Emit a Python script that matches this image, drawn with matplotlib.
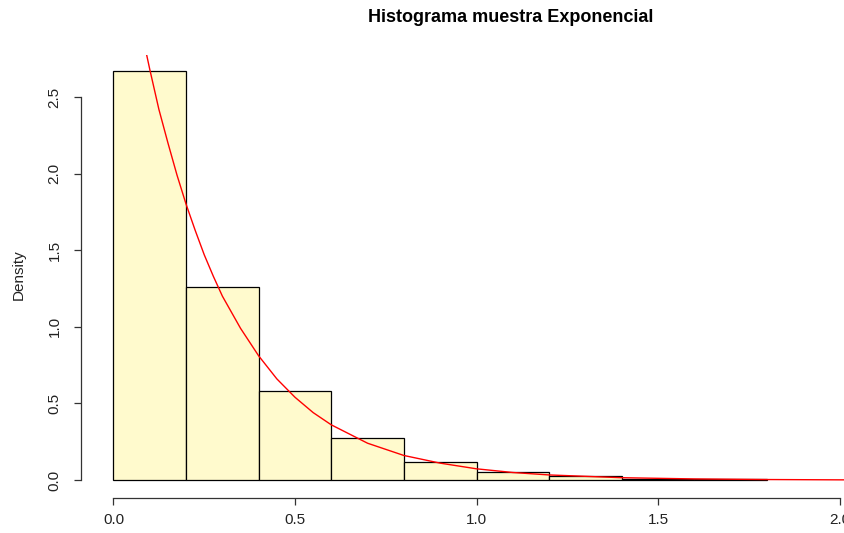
"""Histogram of an exponential sample with the fitted density overlaid."""

import matplotlib

matplotlib.use("Agg")

import matplotlib.pyplot as plt  # noqa: E402

# ---------- Data ----------

BREAKS = [0.0, 0.2, 0.4, 0.6, 0.8, 1.0, 1.2, 1.4, 1.6, 1.8]
DENSITY = [2.67, 1.26, 0.58, 0.274, 0.117, 0.052, 0.026, 0.009, 0.006]

# red density curve
CURVE_X = [0.09, 0.10, 0.125, 0.15, 0.175, 0.20, 0.225, 0.25, 0.275, 0.30,
           0.35, 0.40, 0.45, 0.50, 0.55, 0.60, 0.70, 0.80, 0.90, 1.00,
           1.10, 1.20, 1.40, 1.60, 1.80, 2.00, 2.05]
CURVE_Y = [2.79, 2.68, 2.42, 2.20, 1.99, 1.80, 1.63, 1.47, 1.33, 1.20,
           0.99, 0.81, 0.66, 0.54, 0.44, 0.36, 0.24, 0.16, 0.11, 0.073,
           0.049, 0.033, 0.015, 0.007, 0.003, 0.001, 0.001]

X_TICKS = [0.0, 0.5, 1.0, 1.5, 2.0]
Y_TICKS = [0.0, 0.5, 1.0, 1.5, 2.0, 2.5]

TITLE = "Histograma muestra Exponencial"
Y_LABEL = "Density"

# ---------- Figure ----------

plt.rcParams["font.family"] = ["Liberation Sans", "DejaVu Sans"]

W, H = 845, 533
fig = plt.figure(figsize=(W / 100, H / 100), dpi=100)

# plot region in pixels: left 81, right 845, top 54.6, bottom 498
left, right, top, bottom = 81, 845, 54.6, 498
ax = fig.add_axes([left / W, (H - bottom) / H, (right - left) / W, (bottom - top) / H])

lefts = BREAKS[:-1]
widths = [b - a for a, b in zip(BREAKS[:-1], BREAKS[1:])]
ax.bar(lefts, DENSITY, width=widths, align="edge", color="#FFFACD",
       edgecolor="black", linewidth=0.9, zorder=2)
ax.plot(CURVE_X, CURVE_Y, color="red", linewidth=1.0, zorder=3, clip_on=True)

ax.set_xlim(-0.0895, 2.015)
ax.set_ylim(-0.1175, 2.777)

for s in ("top", "right"):
    ax.spines[s].set_visible(False)
ax.spines["left"].set_bounds(0, 2.5)
ax.spines["bottom"].set_bounds(0, 2.0)
for s in ("left", "bottom"):
    ax.spines[s].set_linewidth(0.9)
    ax.spines[s].set_color("#333333")

ax.set_xticks(X_TICKS)
ax.set_xticklabels([f"{t:.1f}" for t in X_TICKS])
ax.set_yticks(Y_TICKS)
ax.set_yticklabels([f"{t:.1f}" for t in Y_TICKS], rotation=90, va="center")
ax.tick_params(axis="both", length=5, width=0.9, color="#333333",
               labelsize=11, labelcolor="#222222")
ax.tick_params(axis="x", pad=6)
ax.tick_params(axis="y", pad=9)

fig.text(19 / W, (H - 275) / H, Y_LABEL, rotation=90, ha="center", va="center",
         fontsize=11, color="#222222")
fig.text(511 / W, (H - 18) / H, TITLE, ha="center", va="center",
         fontsize=13, fontweight="bold")

fig.savefig("out.png", dpi=100)
